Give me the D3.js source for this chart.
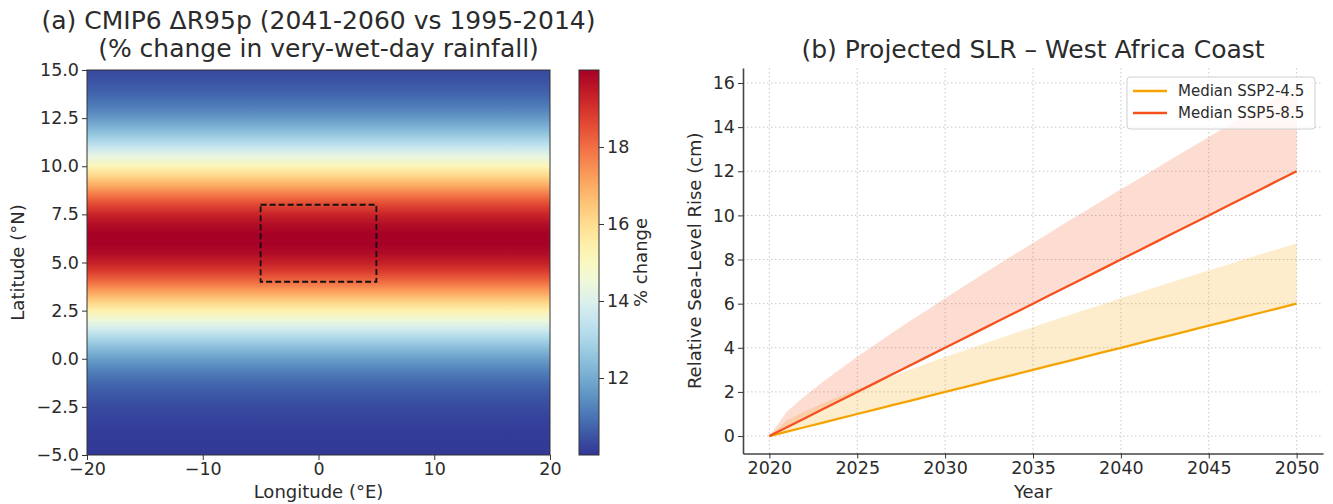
<!DOCTYPE html>
<html>
<head>
<meta charset="utf-8">
<script src="https://cdn.jsdelivr.net/npm/d3@7"></script>
<style>
  body { margin: 0; background: #fff; }
  svg text { font-family: "DejaVu Sans", sans-serif; fill: #2b2b2b; }
</style>
</head>
<body>
<svg id="chart" width="1333" height="504"></svg>
<script>
// (a) zonal profile of R95p change, one value per latitude row
var latitudes = [-5, -4.5, -4, -3.5, -3, -2.5, -2, -1.5, -1, -0.5, 0, 0.5, 1, 1.5, 2, 2.5, 3, 3.5, 4, 4.5,
                 5, 5.5, 6, 6.5, 7, 7.5, 8, 8.5, 9, 9.5, 10, 10.5, 11, 11.5, 12, 12.5, 13, 13.5, 14, 14.5, 15];
var r95pChange = [10.03, 10.06, 10.09, 10.14, 10.22, 10.33, 10.48, 10.68, 10.96, 11.31, 11.76, 12.30, 12.94, 13.68, 14.50, 15.38, 16.29, 17.19, 18.03, 18.77,
                  19.37, 19.78, 19.98, 19.96, 19.71, 19.26, 18.64, 17.87, 17.01, 16.11, 15.20, 14.33, 13.52, 12.80, 12.18, 11.66, 11.23, 10.90, 10.64, 10.44, 10.30];
var lonTicks = [-20, -10, 0, 10, 20];
var latTicks = [-5, -2.5, 0, 2.5, 5, 7.5, 10, 12.5, 15];
var cbarRange = [10, 20];
var cbarTicks = [12, 14, 16, 18];
var boxLon = [-5, 5];
var boxLat = [4, 8];

// (b) sea-level rise projections (cm)
var years = [2020, 2021, 2022, 2023, 2024, 2025, 2026, 2027, 2028, 2029, 2030, 2031, 2032, 2033, 2034, 2035,
             2036, 2037, 2038, 2039, 2040, 2041, 2042, 2043, 2044, 2045, 2046, 2047, 2048, 2049, 2050];
var medianSsp245 = [0, 0.2, 0.4, 0.6, 0.8, 1.0, 1.2, 1.4, 1.6, 1.8, 2.0, 2.2, 2.4, 2.6, 2.8, 3.0,
                    3.2, 3.4, 3.6, 3.8, 4.0, 4.2, 4.4, 4.6, 4.8, 5.0, 5.2, 5.4, 5.6, 5.8, 6.0];
var upperSsp245 = [0, 0.70, 1.11, 1.47, 1.80, 2.12, 2.42, 2.72, 3.01, 3.30, 3.58, 3.86, 4.13, 4.40, 4.67, 4.94,
                   5.20, 5.46, 5.72, 5.98, 6.24, 6.49, 6.75, 7.00, 7.25, 7.50, 7.75, 8.00, 8.25, 8.49, 8.74];
var medianSsp585 = [0, 0.4, 0.8, 1.2, 1.6, 2.0, 2.4, 2.8, 3.2, 3.6, 4.0, 4.4, 4.8, 5.2, 5.6, 6.0,
                    6.4, 6.8, 7.2, 7.6, 8.0, 8.4, 8.8, 9.2, 9.6, 10.0, 10.4, 10.8, 11.2, 11.6, 12.0];
var upperSsp585 = [0, 1.11, 1.80, 2.43, 3.02, 3.59, 4.14, 4.68, 5.21, 5.73, 6.25, 6.76, 7.26, 7.76, 8.26, 8.75,
                   9.24, 9.73, 10.21, 10.70, 11.18, 11.65, 12.13, 12.61, 13.08, 13.55, 14.02, 14.49, 14.96, 15.42, 15.89];
var yearTicks = [2020, 2025, 2030, 2035, 2040, 2045, 2050];
var slrTicks = [0, 2, 4, 6, 8, 10, 12, 14, 16];
var seriesNames = ["Median SSP2-4.5", "Median SSP5-8.5"];
var seriesColors = ["#f5a300", "#f4511e"];

var svg = d3.select("#chart");
var defs = svg.append("defs");

function styleAxis(g) {
  g.selectAll("text").style("font-size", "17.5px").attr("fill", "#2b2b2b");
  g.selectAll("line").attr("stroke", "#333");
}

//---------------- Panel (a) ----------------
var a = {left: 87, right: 550, top: 70, bottom: 455};
var xA = d3.scaleLinear().domain([-20, 20]).range([a.left, a.right]);
var yA = d3.scaleLinear().domain([-5, 15]).range([a.bottom, a.top]);
var color = d3.scaleSequential(function(t) { return d3.interpolateRdYlBu(1 - t); }).domain(cbarRange);

//Field drawn as a vertical gradient, one stop per latitude row (top row first so offsets increase)
var rowOrder = d3.range(latitudes.length).reverse();
var fieldGrad = defs.append("linearGradient")
    .attr("id", "fieldGrad")
    .attr("gradientUnits", "userSpaceOnUse")
    .attr("x1", 0).attr("x2", 0)
    .attr("y1", yA(15)).attr("y2", yA(-5));
fieldGrad.selectAll("stop")
    .data(rowOrder)
  .enter().append("stop")
    .attr("offset", function(i) { return (yA(latitudes[i]) - yA(15)) / (yA(-5) - yA(15)); })
    .attr("stop-color", function(i) { return color(r95pChange[i]); });

svg.append("rect")
    .attr("x", xA(-20)).attr("y", yA(15))
    .attr("width", xA(20) - xA(-20)).attr("height", yA(-5) - yA(15))
    .attr("fill", "url(#fieldGrad)");

//Dashed study box
svg.append("rect")
    .attr("x", xA(boxLon[0])).attr("y", yA(boxLat[1]))
    .attr("width", xA(boxLon[1]) - xA(boxLon[0]))
    .attr("height", yA(boxLat[0]) - yA(boxLat[1]))
    .attr("fill", "none")
    .attr("stroke", "#111")
    .attr("stroke-width", 1.8)
    .attr("stroke-dasharray", "6,3");

svg.append("g")
    .attr("transform", "translate(0," + a.bottom + ")")
    .call(d3.axisBottom(xA).tickValues(lonTicks).tickSize(5).tickSizeOuter(0).tickPadding(3))
    .call(function(g) { g.select(".domain").remove(); })
    .call(styleAxis);
svg.append("g")
    .attr("transform", "translate(" + a.left + ",0)")
    .call(d3.axisLeft(yA).tickValues(latTicks).tickFormat(d3.format(".1f")).tickSize(5).tickSizeOuter(0).tickPadding(3))
    .call(function(g) { g.select(".domain").remove(); })
    .call(styleAxis);

svg.append("rect")
    .attr("x", a.left).attr("y", a.top)
    .attr("width", a.right - a.left).attr("height", a.bottom - a.top)
    .attr("fill", "none").attr("stroke", "#333").attr("stroke-width", 1);

svg.append("text")
    .attr("x", (a.left + a.right) / 2).attr("y", 29)
    .attr("text-anchor", "middle").style("font-size", "25px")
    .text("(a) CMIP6 \u0394R95p (2041-2060 vs 1995-2014)");
svg.append("text")
    .attr("x", (a.left + a.right) / 2).attr("y", 57)
    .attr("text-anchor", "middle").style("font-size", "25px")
    .text("(% change in very-wet-day rainfall)");
svg.append("text")
    .attr("x", (a.left + a.right) / 2).attr("y", 498)
    .attr("text-anchor", "middle").style("font-size", "18px")
    .text("Longitude (\u00b0E)");
svg.append("text")
    .attr("transform", "translate(24," + ((a.top + a.bottom) / 2) + ") rotate(-90)")
    .attr("text-anchor", "middle").style("font-size", "18px")
    .text("Latitude (\u00b0N)");

//Colorbar
var c = {left: 579, right: 599, top: 70, bottom: 455};
var yC = d3.scaleLinear().domain(cbarRange).range([c.bottom, c.top]);
var cbarGrad = defs.append("linearGradient")
    .attr("id", "cbarGrad")
    .attr("x1", 0).attr("x2", 0).attr("y1", 1).attr("y2", 0);
cbarGrad.selectAll("stop")
    .data(d3.range(0, 1.0001, 0.05))
  .enter().append("stop")
    .attr("offset", function(d) { return d; })
    .attr("stop-color", function(d) { return d3.interpolateRdYlBu(1 - d); });
svg.append("rect")
    .attr("x", c.left).attr("y", c.top)
    .attr("width", c.right - c.left).attr("height", c.bottom - c.top)
    .attr("fill", "url(#cbarGrad)")
    .attr("stroke", "#333").attr("stroke-width", 1);
svg.append("g")
    .attr("transform", "translate(" + c.right + ",0)")
    .call(d3.axisRight(yC).tickValues(cbarTicks).tickSize(5).tickSizeOuter(0).tickPadding(3))
    .call(function(g) { g.select(".domain").remove(); })
    .call(styleAxis);
svg.append("text")
    .attr("transform", "translate(647," + ((c.top + c.bottom) / 2) + ") rotate(-90)")
    .attr("text-anchor", "middle").style("font-size", "18px")
    .text("% change");

//---------------- Panel (b) ----------------
var b = {left: 743, right: 1323, top: 68, bottom: 453.5};
var xB = d3.scaleLinear().domain([2018.5, 2051.5]).range([b.left, b.right]);
var yB = d3.scaleLinear().domain([-0.79, 16.68]).range([b.bottom, b.top]);

//Dotted grid
svg.append("g").selectAll("line")
    .data(yearTicks)
  .enter().append("line")
    .attr("x1", function(d) { return xB(d); }).attr("x2", function(d) { return xB(d); })
    .attr("y1", b.top).attr("y2", b.bottom)
    .attr("stroke", "#c8c8c8").attr("stroke-width", 1).attr("stroke-dasharray", "1.5,2.5");
svg.append("g").selectAll("line")
    .data(slrTicks)
  .enter().append("line")
    .attr("x1", b.left).attr("x2", b.right)
    .attr("y1", function(d) { return yB(d); }).attr("y2", function(d) { return yB(d); })
    .attr("stroke", "#c8c8c8").attr("stroke-width", 1).attr("stroke-dasharray", "1.5,2.5");

var bands = [
  {median: medianSsp245, upper: upperSsp245, color: seriesColors[0]},
  {median: medianSsp585, upper: upperSsp585, color: seriesColors[1]}
];

var area = function(band) {
  return d3.area()
    .x(function(d, i) { return xB(years[i]); })
    .y0(function(d, i) { return yB(band.median[i]); })
    .y1(function(d, i) { return yB(band.upper[i]); })(years);
};
var line = function(band) {
  return d3.line()
    .x(function(d, i) { return xB(years[i]); })
    .y(function(d, i) { return yB(band.median[i]); })(years);
};

svg.append("g").selectAll("path")
    .data(bands)
  .enter().append("path")
    .attr("d", area)
    .attr("fill", function(d) { return d.color; })
    .attr("fill-opacity", 0.2);
svg.append("g").selectAll("path")
    .data(bands)
  .enter().append("path")
    .attr("d", line)
    .attr("fill", "none")
    .attr("stroke", function(d) { return d.color; })
    .attr("stroke-width", 2.3);

svg.append("g")
    .attr("transform", "translate(0," + b.bottom + ")")
    .call(d3.axisBottom(xB).tickValues(yearTicks).tickFormat(d3.format("d")).tickSize(5).tickSizeOuter(0).tickPadding(3))
    .call(styleAxis)
    .call(function(g) { g.select(".domain").attr("stroke", "#444").attr("stroke-width", 1.6); });
svg.append("g")
    .attr("transform", "translate(" + b.left + ",0)")
    .call(d3.axisLeft(yB).tickValues(slrTicks).tickSize(5).tickSizeOuter(0).tickPadding(3))
    .call(styleAxis)
    .call(function(g) { g.select(".domain").attr("stroke", "#444").attr("stroke-width", 1.6); });

svg.append("text")
    .attr("x", (b.left + b.right) / 2).attr("y", 58)
    .attr("text-anchor", "middle").style("font-size", "25px")
    .text("(b) Projected SLR \u2013 West Africa Coast");
svg.append("text")
    .attr("x", (b.left + b.right) / 2).attr("y", 498)
    .attr("text-anchor", "middle").style("font-size", "18px")
    .text("Year");
svg.append("text")
    .attr("transform", "translate(701," + ((b.top + b.bottom) / 2) + ") rotate(-90)")
    .attr("text-anchor", "middle").style("font-size", "18px")
    .text("Relative Sea-Level Rise (cm)");

//Legend
var legend = svg.append("g").attr("transform", "translate(1127,77)");
legend.append("rect")
    .attr("width", 188).attr("height", 52).attr("rx", 3)
    .attr("fill", "#fff").attr("fill-opacity", 0.8)
    .attr("stroke", "#d0d0d0");
var item = legend.selectAll(".item")
    .data(seriesNames)
  .enter().append("g")
    .attr("class", "item")
    .attr("transform", function(d, i) { return "translate(0," + (14 + i * 22) + ")"; });
item.append("line")
    .attr("x1", 6).attr("x2", 40)
    .attr("stroke", function(d, i) { return seriesColors[i]; })
    .attr("stroke-width", 2.3);
item.append("text")
    .attr("x", 51).attr("y", 5)
    .style("font-size", "15px")
    .text(function(d) { return d; });
</script>
</body>
</html>
